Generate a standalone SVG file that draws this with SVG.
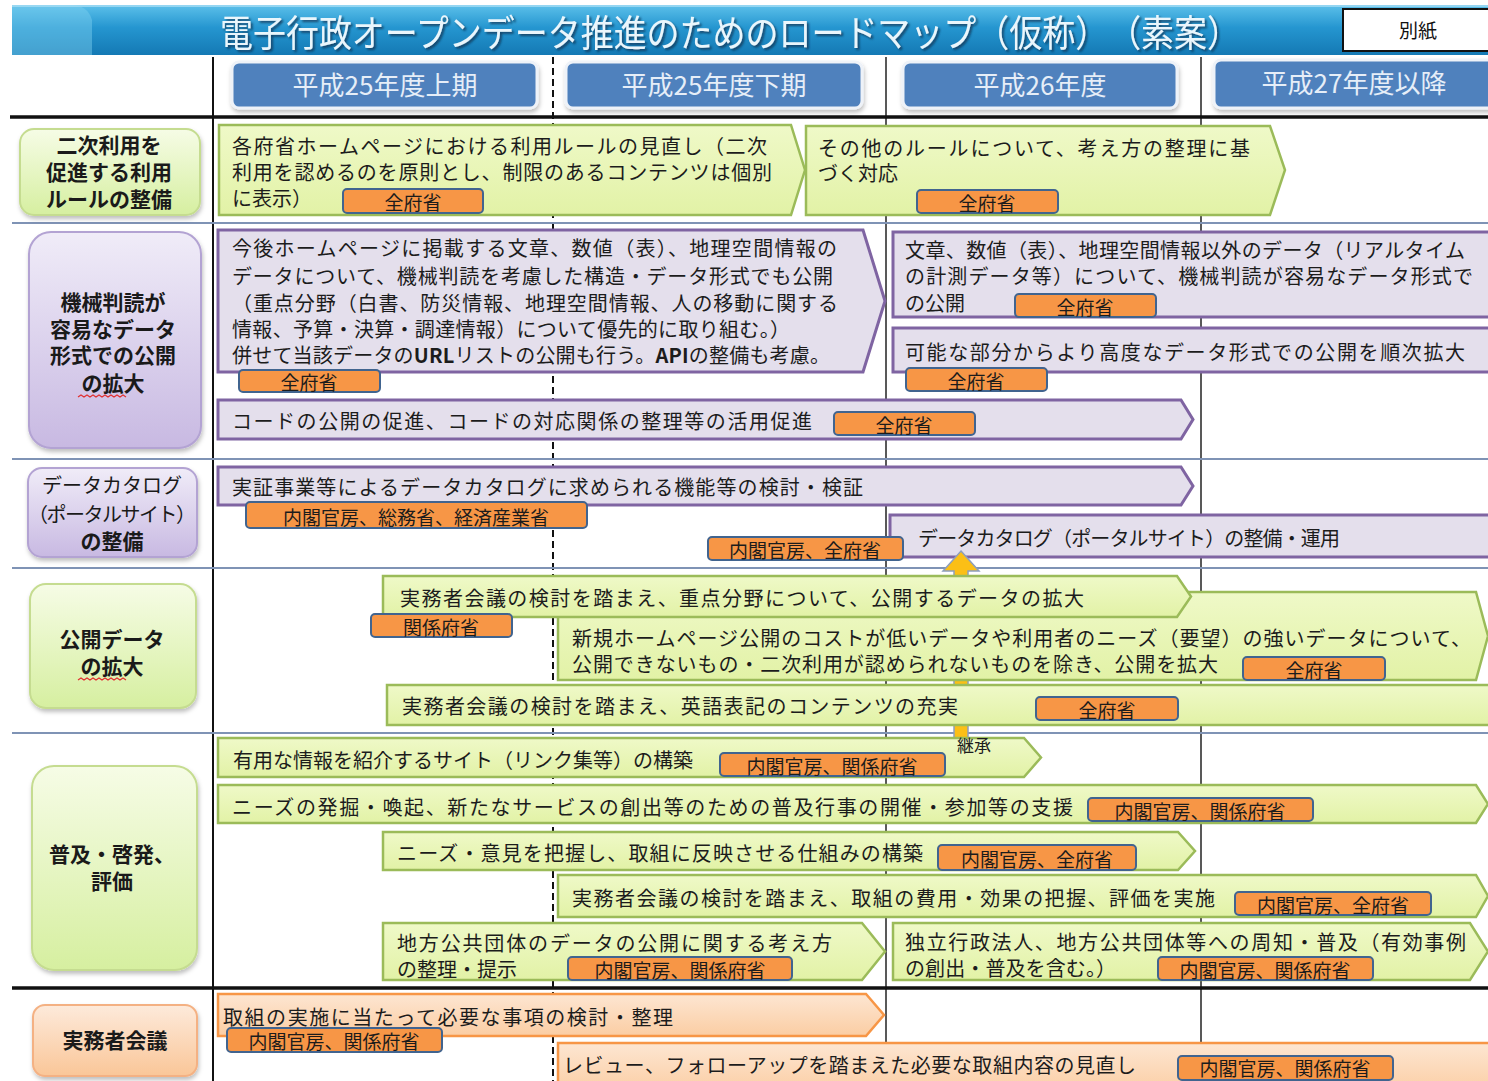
<svg xmlns="http://www.w3.org/2000/svg" width="1488" height="1081" viewBox="0 0 1488 1081">
<defs>
<linearGradient id="gTitle" x1="0" y1="0" x2="0" y2="1"><stop offset="0" stop-color="#5cc0ea"/><stop offset="0.45" stop-color="#2596d0"/><stop offset="1" stop-color="#1479b4"/></linearGradient>
<linearGradient id="gb" x1="0" y1="0" x2="0" y2="1"><stop offset="0" stop-color="#eff9c8"/><stop offset="1" stop-color="#e2f2a6"/></linearGradient>
<linearGradient id="go" x1="0" y1="0" x2="0" y2="1"><stop offset="0" stop-color="#fde6d2"/><stop offset="1" stop-color="#fbcda3"/></linearGradient>
<linearGradient id="cg" x1="0" y1="0" x2="0" y2="1"><stop offset="0" stop-color="#f6fce6"/><stop offset="1" stop-color="#d6efa0"/></linearGradient>
<linearGradient id="cp" x1="0" y1="0" x2="0" y2="1"><stop offset="0" stop-color="#f0ecf8"/><stop offset="1" stop-color="#c8b9e2"/></linearGradient>
<linearGradient id="co" x1="0" y1="0" x2="0" y2="1"><stop offset="0" stop-color="#fdeadb"/><stop offset="1" stop-color="#fac698"/></linearGradient>
<filter id="sh" x="-10%" y="-10%" width="130%" height="130%"><feDropShadow dx="1" dy="3" stdDeviation="2" flood-color="#000" flood-opacity="0.25"/></filter>
<filter id="tsh" x="-5%" y="-20%" width="110%" height="150%"><feDropShadow dx="2" dy="2" stdDeviation="1" flood-color="#0a3552" flood-opacity="0.8"/></filter>
<style>
.t{font-family:'Noto Sans CJK JP','Noto Sans CJK SC',sans-serif;font-size:20px;fill:#1c1c1c}
.tag rect{fill:#f79646;stroke:#41648f;stroke-width:2}
.tag text{font-family:'Noto Sans CJK JP','Noto Sans CJK SC',sans-serif;font-size:19px;fill:#1c1c1c;text-anchor:middle}
.cat text{font-family:'Noto Sans CJK JP','Noto Sans CJK SC',sans-serif;font-size:21px;font-weight:700;fill:#1a1a1a;text-anchor:middle}
.cat text.r{font-weight:400;font-size:20px}
.bg{fill:url(#gb);stroke:#9bbb59;stroke-width:2.5}
.bp{fill:#e4dfec;stroke:#7f64a2;stroke-width:3}
.bo{fill:url(#go);stroke:#f79646;stroke-width:2.5}
.hd rect{fill:#4f81bd;stroke:#eef2f8;stroke-width:3}
.hd text{font-family:'Noto Sans CJK JP','Noto Sans CJK SC',sans-serif;font-size:26px;fill:#e6eef8;text-anchor:middle}
.sep{stroke:#7f93b5;stroke-width:2}
.wavy{fill:none;stroke:#e03030;stroke-width:1.2}
</style>
</defs>
<rect width="1488" height="1081" fill="#ffffff"/>

<!-- title -->
<g id="title">
<rect x="12" y="5" width="1476" height="50" fill="url(#gTitle)"/>
<path d="M12 5 H70 Q88 5 92 20 L92 55 H12 Z" fill="#7fd0f0" opacity="0.45"/>
<line x1="12" y1="6" x2="1488" y2="6" stroke="#a9def4" stroke-width="1.5"/>
<text x="220" y="47" textLength="1020" lengthAdjust="spacingAndGlyphs" filter="url(#tsh)" style="font-family:'Noto Sans CJK JP','Noto Sans CJK SC',sans-serif;font-size:37px;fill:#eaf6fc">電子行政オープンデータ推進のためのロードマップ（仮称）　（素案）</text>
</g>
<g id="bessi">
<rect x="1343" y="9" width="150" height="42" fill="#ffffff" stroke="#111" stroke-width="2"/>
<text x="1418" y="38" text-anchor="middle" style="font-family:'Noto Sans CJK JP','Noto Sans CJK SC',sans-serif;font-size:19px;fill:#111">別紙</text>
</g>

<!-- grid -->
<g id="grid">
<line x1="213" y1="57" x2="213" y2="1081" stroke="#111" stroke-width="2"/>
<line x1="553" y1="57" x2="553" y2="1081" stroke="#111" stroke-width="2" stroke-dasharray="7 4"/>
<line x1="886" y1="57" x2="886" y2="1081" stroke="#222" stroke-width="1.5"/>
<line x1="1201" y1="57" x2="1201" y2="1081" stroke="#222" stroke-width="1.5"/>
<line x1="10" y1="117" x2="1488" y2="117" stroke="#111" stroke-width="3.5"/>
<line class="sep" x1="12" y1="223" x2="1488" y2="223"/>
<line class="sep" x1="12" y1="459" x2="1488" y2="459"/>
<line class="sep" x1="12" y1="568" x2="1488" y2="568"/>
<line class="sep" x1="12" y1="733" x2="1488" y2="733"/>
<line x1="12" y1="988" x2="1488" y2="988" stroke="#111" stroke-width="3.5"/>
</g>

<!-- period headers -->
<g id="h1" class="hd"><rect x="232" y="62" width="305" height="46" rx="7" filter="url(#sh)"/><text x="385" y="95">平成25年度上期</text></g>
<g id="h2" class="hd"><rect x="566" y="62" width="296" height="46" rx="7" filter="url(#sh)"/><text x="714" y="95">平成25年度下期</text></g>
<g id="h3" class="hd"><rect x="903" y="62" width="274" height="46" rx="7" filter="url(#sh)"/><text x="1040" y="95">平成26年度</text></g>
<g id="h4" class="hd"><rect x="1214" y="60" width="285" height="48" rx="7" filter="url(#sh)"/><text x="1354" y="93">平成27年度以降</text></g>

<!-- categories -->
<g id="cat1" class="cat"><rect x="20" y="129" width="180" height="86" rx="14" fill="url(#cg)" stroke="#c5dc90" stroke-width="2" filter="url(#sh)"/>
<text x="109" y="153">二次利用を</text><text x="109" y="180">促進する利用</text><text x="109" y="207">ルールの整備</text></g>
<g id="cat2" class="cat"><rect x="29" y="232" width="172" height="216" rx="22" fill="url(#cp)" stroke="#b3a3d3" stroke-width="2" filter="url(#sh)"/>
<text x="113" y="310">機械判読が</text><text x="113" y="337">容易なデータ</text><text x="113" y="363">形式での公開</text><text x="113" y="391">の拡大</text>
<path class="wavy" d="M78 397 l3 -2 l3 2 l3 -2 l3 2 l3 -2 l3 2 l3 -2 l3 2 l3 -2 l3 2 l3 -2 l3 2 l3 -2 l3 2 l3 -2 l3 2"/></g>
<g id="cat3" class="cat"><rect x="28" y="468" width="169" height="89" rx="14" fill="url(#cp)" stroke="#b3a3d3" stroke-width="2" filter="url(#sh)"/>
<text class="r" x="112" y="493">データカタログ</text><text class="r" x="112" y="522" textLength="168">（ポータルサイト）</text><text x="112" y="549">の整備</text></g>
<g id="cat4" class="cat"><rect x="30" y="584" width="166" height="124" rx="16" fill="url(#cg)" stroke="#c5dc90" stroke-width="2" filter="url(#sh)"/>
<text x="112" y="647">公開データ</text><text x="112" y="674">の拡大</text>
<path class="wavy" d="M78 680 l3 -2 l3 2 l3 -2 l3 2 l3 -2 l3 2 l3 -2 l3 2 l3 -2 l3 2 l3 -2 l3 2 l3 -2 l3 2 l3 -2 l3 2"/></g>
<g id="cat5" class="cat"><rect x="32" y="766" width="165" height="204" rx="22" fill="url(#cg)" stroke="#c5dc90" stroke-width="2" filter="url(#sh)"/>
<text x="112" y="862">普及・啓発、</text><text x="112" y="889">評価</text></g>
<g id="cat6" class="cat"><rect x="33" y="1005" width="164" height="71" rx="12" fill="url(#co)" stroke="#f4b183" stroke-width="2" filter="url(#sh)"/>
<text x="115" y="1048">実務者会議</text></g>

<!-- row 1 -->
<g id="r1b1"><path class="bg" d="M219 125 H791 L805 170 L791 215 H219 Z"/>
<text class="t" x="232" y="154" textLength="535">各府省ホームページにおける利用ルールの見直し（二次</text>
<text class="t" x="232" y="180" textLength="540">利用を認めるのを原則とし、制限のあるコンテンツは個別</text>
<text class="t" x="232" y="206">に表示）</text>
<g class="tag"><rect x="343" y="189" width="140" height="24" rx="4"/><text x="413" y="210">全府省</text></g></g>
<g id="r1b2"><path class="bg" d="M806 126 H1270 L1285 170 L1270 215 H806 Z"/>
<text class="t" x="818" y="156" textLength="432">その他のルールについて、考え方の整理に基</text>
<text class="t" x="818" y="181">づく対応</text>
<g class="tag"><rect x="917" y="190" width="141" height="23" rx="4"/><text x="987" y="211">全府省</text></g></g>

<!-- row 2 -->
<g id="r2b1"><path class="bp" d="M218 230 H863 L885 301 L863 372 H218 Z"/>
<text class="t" x="232" y="256" textLength="605">今後ホームページに掲載する文章、数値（表）、地理空間情報の</text>
<text class="t" x="232" y="284" textLength="601">データについて、機械判読を考慮した構造・データ形式でも公開</text>
<text class="t" x="232" y="311" textLength="606">（重点分野（白書、防災情報、地理空間情報、人の移動に関する</text>
<text class="t" x="232" y="337" textLength="558">情報、予算・決算・調達情報）について優先的に取り組む。）</text>
<text class="t" x="232" y="363" textLength="598">併せて当該データの<tspan font-weight="700">URL</tspan>リストの公開も行う。<tspan font-weight="700">API</tspan>の整備も考慮。</text>
<g class="tag"><rect x="239" y="370" width="141" height="22" rx="4"/><text x="309" y="390">全府省</text></g></g>
<g id="r2r1"><rect class="bp" x="893" y="232" width="605" height="85"/>
<text class="t" x="905" y="258" textLength="560">文章、数値（表）、地理空間情報以外のデータ（リアルタイム</text>
<text class="t" x="905" y="284" textLength="568">の計測データ等）について、機械判読が容易なデータ形式で</text>
<text class="t" x="905" y="311">の公開</text>
<g class="tag"><rect x="1015" y="294" width="141" height="23" rx="4"/><text x="1085" y="315">全府省</text></g></g>
<g id="r2r2"><rect class="bp" x="893" y="328" width="605" height="44"/>
<text class="t" x="905" y="360" textLength="560">可能な部分からより高度なデータ形式での公開を順次拡大</text>
<g class="tag"><rect x="906" y="368" width="141" height="23" rx="4"/><text x="976" y="389">全府省</text></g></g>
<g id="r2c"><path class="bp" d="M218 400 H1181 L1193 419.5 L1181 439 H218 Z"/>
<text class="t" x="232" y="429" textLength="580">コードの公開の促進、コードの対応関係の整理等の活用促進</text>
<g class="tag"><rect x="834" y="412" width="141" height="23" rx="4"/><text x="904" y="433">全府省</text></g></g>

<!-- row 3 -->
<g id="r3b1"><path class="bp" d="M218 467 H1181 L1193 486 L1181 505 H218 Z"/>
<text class="t" x="232" y="495" textLength="631">実証事業等によるデータカタログに求められる機能等の検討・検証</text>
<g class="tag"><rect x="246" y="502" width="341" height="26" rx="4"/><text x="416" y="525">内閣官房、総務省、経済産業省</text></g></g>
<g id="r3r"><rect class="bp" x="890" y="515" width="608" height="42"/>
<text class="t" x="918" y="546" textLength="422">データカタログ（ポータルサイト）の整備・運用</text>
<g class="tag"><rect x="708" y="537" width="195" height="23" rx="4"/><text x="805" y="558">内閣官房、全府省</text></g></g>

<!-- connector (arrow) -->
<g id="connectors">
<path d="M961 551 L979 571 H968 V746 H954 V571 H943 Z" fill="#fbbf16" stroke="#8d9fbd" stroke-width="1.5"/>
</g>

<!-- row 4 -->
<g id="r4b2"><path class="bg" d="M558 592 H1476 L1488 636 L1476 680 H558 Z"/>
<text class="t" x="572" y="646" textLength="899">新規ホームページ公開のコストが低いデータや利用者のニーズ（要望）の強いデータについて、</text>
<text class="t" x="572" y="672" textLength="646">公開できないもの・二次利用が認められないものを除き、公開を拡大</text>
<g class="tag"><rect x="1243" y="657" width="142" height="23" rx="4"/><text x="1314" y="678">全府省</text></g></g>
<g id="r4b1"><path class="bg" d="M383 576 H1177 L1191 596.5 L1177 617 H383 Z"/>
<text class="t" x="400" y="606" textLength="684">実務者会議の検討を踏まえ、重点分野について、公開するデータの拡大</text>
<g class="tag"><rect x="371" y="614" width="141" height="23" rx="4"/><text x="441" y="635">関係府省</text></g></g>
<g id="r4b3"><rect class="bg" x="387" y="685" width="1111" height="40"/>
<text class="t" x="402" y="714" textLength="556">実務者会議の検討を踏まえ、英語表記のコンテンツの充実</text>
<g class="tag"><rect x="1036" y="697" width="142" height="23" rx="4"/><text x="1107" y="718">全府省</text></g></g>

<!-- row 5 -->
<g id="r5b1"><path class="bg" d="M218 738 H1024 L1041 757.5 L1024 777 H218 Z"/>
<text class="t" x="233" y="768" textLength="460">有用な情報を紹介するサイト（リンク集等）の構築</text>
<g class="tag"><rect x="720" y="753" width="225" height="23" rx="4"/><text x="832" y="774">内閣官房、関係府省</text></g></g>
<g id="r5b2"><path class="bg" d="M218 785 H1476 L1488 804 L1476 823 H218 Z"/>
<text class="t" x="232" y="815" textLength="841">ニーズの発掘・喚起、新たなサービスの創出等のための普及行事の開催・参加等の支援</text>
<g class="tag"><rect x="1088" y="798" width="225" height="23" rx="4"/><text x="1200" y="819">内閣官房、関係府省</text></g></g>
<g id="r5b3"><path class="bg" d="M383 832 H1178 L1195 851 L1178 870 H383 Z"/>
<text class="t" x="397" y="861" textLength="526">ニーズ・意見を把握し、取組に反映させる仕組みの構築</text>
<g class="tag"><rect x="938" y="845" width="198" height="25" rx="4"/><text x="1037" y="867">内閣官房、全府省</text></g></g>
<g id="r5b4"><path class="bg" d="M558 875 H1476 L1488 896 L1476 917 H558 Z"/>
<text class="t" x="572" y="906" textLength="643">実務者会議の検討を踏まえ、取組の費用・効果の把握、評価を実施</text>
<g class="tag"><rect x="1235" y="892" width="196" height="23" rx="4"/><text x="1333" y="913">内閣官房、全府省</text></g></g>
<g id="r5b5"><path class="bg" d="M383 923 H862 L885 951.5 L862 980 H383 Z"/>
<text class="t" x="397" y="951" textLength="435">地方公共団体のデータの公開に関する考え方</text>
<text class="t" x="397" y="977">の整理・提示</text>
<g class="tag"><rect x="568" y="957" width="224" height="23" rx="4"/><text x="680" y="978">内閣官房、関係府省</text></g></g>
<g id="r5b6"><path class="bg" d="M893 923 H1470 L1488 951.5 L1470 980 H893 Z"/>
<text class="t" x="905" y="950" textLength="561">独立行政法人、地方公共団体等への周知・普及（有効事例</text>
<text class="t" x="905" y="976" textLength="211">の創出・普及を含む。）</text>
<g class="tag"><rect x="1158" y="957" width="215" height="23" rx="4"/><text x="1265" y="978">内閣官房、関係府省</text></g></g>

<!-- row 6 -->
<g id="r6b1"><path class="bo" d="M218 994 H866 L884 1015 L866 1036 H218 Z"/>
<text class="t" x="223" y="1025" textLength="450">取組の実施に当たって必要な事項の検討・整理</text>
<g class="tag"><rect x="227" y="1028" width="215" height="24" rx="4"/><text x="334" y="1049">内閣官房、関係府省</text></g></g>
<g id="r6b2"><rect class="bo" x="558" y="1043" width="940" height="50"/>
<text class="t" x="563" y="1073" textLength="573">レビュー、フォローアップを踏まえた必要な取組内容の見直し</text>
<g class="tag"><rect x="1178" y="1056" width="215" height="24" rx="4"/><text x="1285" y="1076">内閣官房、関係府省</text></g></g>

<g id="connector-label">
<text x="957" y="752" style="font-family:'Noto Sans CJK JP','Noto Sans CJK SC',sans-serif;font-size:17px;fill:#1c1c1c">継承</text>
</g>
</svg>
